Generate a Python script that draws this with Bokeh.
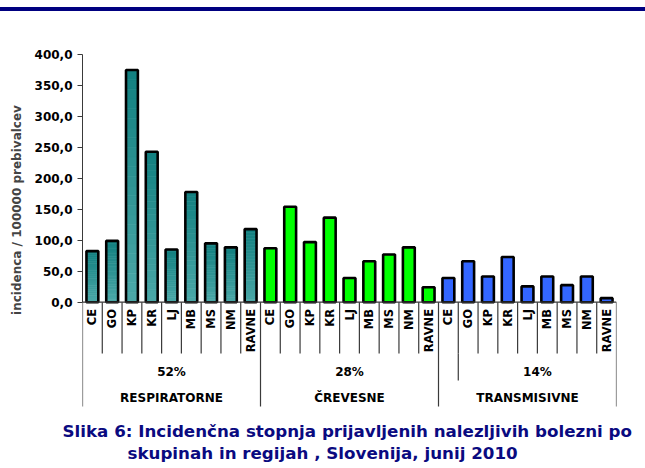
import numpy as np
from bokeh.plotting import figure
from bokeh.models import LinearAxis, FixedTicker, Range1d, Div, Title
from bokeh.layouts import column
from bokeh.core.properties import value
from bokeh.embed import file_html
from bokeh.resources import INLINE

# ---- data ----
regions = ["CE", "GO", "KP", "KR", "LJ", "MB", "MS", "NM", "RAVNE"]
groups = ["RESPIRATORNE", "ČREVESNE", "TRANSMISIVNE"]
group_shares = ["52%", "28%", "14%"]
respiratorne = [82.5, 99.0, 375.0, 243.0, 85.0, 178.0, 95.0, 88.5, 118.0]
crevesne = [87.0, 154.0, 97.0, 136.5, 39.0, 66.0, 77.0, 88.5, 24.0]
transmisivne = [39.0, 66.0, 41.5, 73.0, 25.5, 41.5, 27.5, 41.5, 6.5]
y_ticks = [0, 50, 100, 150, 200, 250, 300, 350, 400]
y_tick_labels = ["0,0", "50,0", "100,0", "150,0", "200,0", "250,0", "300,0", "350,0", "400,0"]
title_line1 = "Slika 6: Incidenčna stopnja prijavljenih nalezljivih bolezni po"
title_line2 = "skupinah in regijah , Slovenija, junij 2010"
y_label = "incidenca / 100000 prebivalcev"

FONT = "DejaVu Sans"
NAVY = "#0a0a80"
LINE = "#3a3a3a"

n_reg = len(regions)
series = [respiratorne, crevesne, transmisivne]
n_all = n_reg * len(series)
xs = np.arange(n_all)

p = figure(width=645, height=457, output_backend="svg", toolbar_location=None,
           x_axis_location=None, y_axis_location=None,
           x_range=Range1d(-0.5, n_all - 0.5), y_range=Range1d(-171.7, 469.4))
p.min_border = 0
p.min_border_left = 82
p.min_border_right = 29
p.min_border_bottom = 60
p.outline_line_color = None
p.xgrid.visible = False
p.ygrid.visible = False
p.background_fill_color = "white"
p.border_fill_color = "white"

yax = LinearAxis(bounds=(0, 400), ticker=FixedTicker(ticks=y_ticks))
yax.major_label_overrides = {t: l for t, l in zip(y_ticks, y_tick_labels)}
yax.major_label_text_font = FONT
yax.major_label_text_font_style = "bold"
yax.major_label_text_font_size = "12px"
yax.major_label_text_color = "black"
yax.major_label_standoff = 5
yax.major_tick_out = 5
yax.major_tick_in = 0
yax.minor_tick_out = 0
yax.minor_tick_in = 0
yax.axis_line_color = LINE
yax.major_tick_line_color = LINE
yax.axis_label = y_label
yax.axis_label_text_font = FONT
yax.axis_label_text_font_style = "bold"
yax.axis_label_text_font_size = "12px"
yax.axis_label_standoff = 8
p.add_layout(yax, "left")

# ---- bars ----
top_c = np.array([0x12, 0x80, 0x80])
bot_c = np.array([0x4c, 0xa8, 0xa8])
NSEG = 24
vals = np.array(respiratorne)
for j in range(NSEG):
    f = (j + 0.5) / NSEG
    c = bot_c + (top_c - bot_c) * f
    col = "#%02x%02x%02x" % tuple(int(round(v)) for v in c)
    p.vbar(x=xs[:n_reg], bottom=vals * j / NSEG, top=vals * (j + 1) / NSEG, width=0.6,
           fill_color=col, line_color=col, line_width=0.6)

p.vbar(x=xs[n_reg:2 * n_reg], top=crevesne, width=0.6, fill_color="#00ff00", line_color=None)
p.vbar(x=xs[2 * n_reg:], top=transmisivne, width=0.6, fill_color="#3366ff", line_color=None)

all_vals = respiratorne + crevesne + transmisivne
p.vbar(x=xs, top=all_vals, width=0.6, fill_color=None, line_color="black", line_width=2.6)

# ---- category axis (table-like) ----
p.segment(x0=[-0.5], y0=[0], x1=[n_all - 0.5], y1=[0], line_color=LINE, line_width=1.2)
cell_bottom = -83
group_bottom = -168.5
share_split = -126.6
inner = [i + 0.5 for i in range(n_all - 1) if (i + 1) % n_reg != 0]
p.segment(x0=inner, y0=[0] * len(inner), x1=inner, y1=[cell_bottom] * len(inner),
          line_color=LINE, line_width=1.2)
outer = [g * n_reg - 0.5 for g in range(len(series) + 1)]
p.segment(x0=outer, y0=[0] * len(outer), x1=outer, y1=[group_bottom] * len(outer),
          line_color=LINE, line_width=1.2)
split_x = 2 * n_reg + 0.5
p.segment(x0=[split_x], y0=[cell_bottom], x1=[split_x], y1=[share_split],
          line_color=LINE, line_width=1.2)

p.text(x=xs, y=[-11] * n_all, text=regions * len(series), angle=np.pi / 2,
       text_align="right", text_baseline="middle", text_font=value(FONT),
       text_font_style="bold", text_font_size="11.5px", text_color="black")

group_centers = [g * n_reg + (n_reg - 1) / 2 for g in range(len(series))]
share_centers = group_centers[:2] + [(split_x + n_all - 0.5) / 2]
p.text(x=share_centers, y=[-113] * 3, text=group_shares, text_align="center",
       text_baseline="middle", text_font=value(FONT), text_font_style="bold",
       text_font_size="12px", text_color="black")
p.text(x=group_centers, y=[-155] * 3, text=groups, text_align="center",
       text_baseline="middle", text_font=value(FONT), text_font_style="bold",
       text_font_size="12px", text_color="black")

# ---- caption ----
for txt, off, so in [(title_line1, -20, 21), (title_line2, 45, -22)]:
    t = Title(text=txt, align="left", offset=off, standoff=so,
              text_font=FONT, text_font_style="bold", text_font_size="16.7px",
              text_color=NAVY)
    p.add_layout(t, "below")

bar = Div(text="", width=645, height=4, margin=(7, 0, 0, 0),
          styles={"background-color": "#000080"})
layout = column(bar, p, spacing=0)

open("out.html", "w").write(file_html(layout, INLINE))
